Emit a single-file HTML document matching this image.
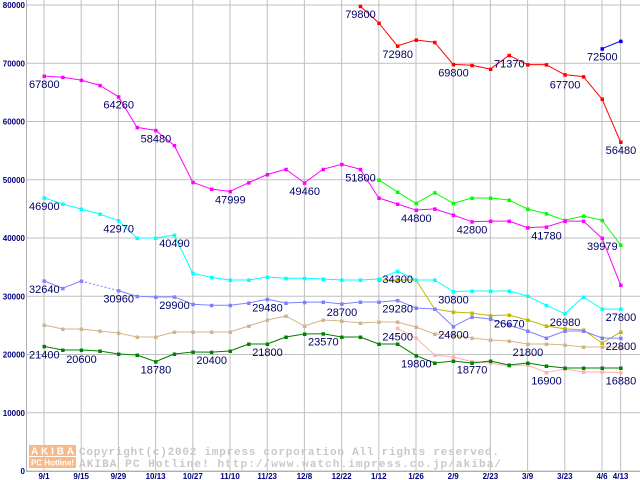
<!DOCTYPE html>
<html><head><meta charset="utf-8">
<style>
html,body{margin:0;padding:0;background:#fff;}
svg{display:block;}
.lbl{font-family:"Liberation Sans",sans-serif;font-size:11px;fill:#000066;}
.tick{font-family:"Liberation Sans",sans-serif;font-size:8px;font-weight:bold;fill:#000080;}
.wm{font-family:"Liberation Mono",monospace;font-size:11px;font-weight:bold;fill:#c8c8c8;}
</style></head>
<body>
<svg id="chart" width="640" height="480" xmlns="http://www.w3.org/2000/svg">
<g id="grid"></g>
<g id="wmark">
  <rect x="29" y="445" width="47" height="11" fill="#f8b888"/>
  <text x="31" y="454.5" font-family="Liberation Sans,sans-serif" font-size="10" font-weight="bold" fill="#fff" textLength="43">AKIBA</text>
  <rect x="29" y="457" width="47" height="11" fill="#f8b888"/>
  <text x="31" y="465.5" font-family="Liberation Sans,sans-serif" font-size="8" font-weight="bold" fill="#fff" textLength="43">PC Hotline!</text>
  <text class="wm" x="79" y="455" textLength="420">Copyright(c)2002 impress corporation All rights reserved.</text>
  <text class="wm" x="79" y="467" textLength="422">AKIBA PC Hotline!  http://www.watch.impress.co.jp/akiba/</text>
</g>
<g id="series"></g>
<g id="labels"></g>
<g id="axes"></g>
</svg>
<script>
const N = null;
const yTicks = [0,10000,20000,30000,40000,50000,60000,70000,80000];
const xTickIdx = [0,2,4,6,8,10,12,14,16,18,20,22,24,26,28,30,31];
const xTickLabels = ["9/1","9/15","9/29","10/13","10/27","11/10","11/23","12/8","12/22","1/12","1/26","2/9","2/23","3/9","3/23","4/6","4/13"];
const sMagenta = [67800,67600,67100,66200,64260,59000,58480,55900,49560,48400,47999,49500,50900,51800,49460,51800,52650,51800,46870,45840,44800,45000,43950,42800,42900,42900,41780,41900,42900,42900,39979,31930];
const sRed = [N,N,N,N,N,N,N,N,N,N,N,N,N,N,N,N,N,79800,76900,72980,74000,73600,69800,69650,69000,71370,69760,69760,68040,67700,63860,56480];
const sBlue = [N,N,N,N,N,N,N,N,N,N,N,N,N,N,N,N,N,N,N,N,N,N,N,N,N,N,N,N,N,N,72500,73800];
const sGreen = [N,N,N,N,N,N,N,N,N,N,N,N,N,N,N,N,N,N,49960,47900,45950,47780,45950,46870,46870,46520,44980,44180,43040,43780,43040,38800];
const sCyan = [46900,45840,44980,44120,42970,40000,40000,40490,33940,33250,32790,32790,33300,33080,33080,32960,32790,32790,32960,34300,32790,32790,30800,30900,30900,30900,30040,28450,27000,29870,27810,27800];
const sLavender = [32640,31360,32620,N,30960,29990,29870,29900,28620,28450,28450,28840,29480,28840,28960,29010,28700,29010,29010,29280,27980,27810,24800,26440,26090,25060,24030,22830,24030,24030,22830,22800];
const sOlive = [N,N,N,N,N,N,N,N,N,N,N,N,N,N,N,N,N,N,32790,32790,32790,27810,27300,27120,26670,26780,25920,24890,24430,24210,21970,23860];
const sTan = [25060,24380,24380,24030,23690,23000,23000,23860,23860,23860,23860,24890,25920,26610,24890,25920,25750,25410,25580,25580,24720,23520,23350,22830,22490,22320,21800,21800,21630,21290,21290,21290];
const sDkGreen = [21400,20770,20770,20600,20090,19910,18780,20090,20430,20400,20600,21800,21800,23000,23520,23570,23000,23000,21800,21800,19800,18540,18880,18540,18880,18200,18540,18030,17680,17680,17680,17680];
const sPink = [N,N,N,N,N,N,N,N,N,N,N,N,N,N,N,N,N,N,N,24500,22830,19910,19570,18770,18540,18030,18200,16900,17510,17000,17000,16880];
const labelTexts = ["67800","64260","58480","47999","49460","46900","42970","40490","32640","30960","29900","29480","21400","20600","18780","20400","21800","23570","79800","72980","69800","71370","67700","72500","56480","51800","44800","42800","41780","39979","34300","30800","28700","29280","26670","26980","27800","24500","24800","22800","21800","19800","18770","16900","16880"];
const labelIdx = [0,4,6,10,14,0,4,7,0,4,7,12,0,2,6,9,12,15,17,19,22,25,28,30,31,17,20,23,27,30,19,22,16,19,25,28,31,19,22,31,26,20,23,27,31];
const labelVal = [67800,64260,58480,47999,49460,46900,42970,40490,32640,30960,29900,29480,21400,20600,18780,20400,21800,23570,79800,72980,69800,71370,67700,72500,56480,51800,44800,42800,41780,39979,34300,30800,28700,29280,26670,26980,27800,24500,24800,22800,21800,19800,18770,16900,16880];

const X = i => 44 + 18.6*i;
const Y = v => 471 - v*0.005825;
const NS = "http://www.w3.org/2000/svg";
function mk(tag, attrs, parent){const e=document.createElementNS(NS,tag);for(const k in attrs)e.setAttribute(k,attrs[k]);parent.appendChild(e);return e;}
const grid=document.getElementById('grid'), axes=document.getElementById('axes'), ser=document.getElementById('series'), lab=document.getElementById('labels');

yTicks.forEach(v=>{
  const l=mk('line',{x1:26,x2:640,y1:Y(v),y2:Y(v),stroke:'#c0c0c0','stroke-width':1},grid);
  
  
  const t=mk('text',{x:25,y:Y(v)+3,'text-anchor':'end',class:'tick'},axes);
  t.textContent=String(v);
  
  
});
xTickIdx.forEach((i,k)=>{
  const l=mk('line',{x1:X(i),x2:X(i),y1:0,y2:471,stroke:'#c0c0c0','stroke-width':1},grid);
  
  
  const t=mk('text',{x:X(i),y:479,'text-anchor':'middle',class:'tick'},axes);
  t.textContent=xTickLabels[k];
  
  
});
const ax=mk('line',{x1:26.5,x2:26.5,y1:0,y2:471,stroke:'#b0b0b0'},grid);


const bx=mk('line',{x1:26,x2:640,y1:471.5,y2:471.5,stroke:'#b0b0b0'},grid);



function drawSeries(arr,color,name,bridgeDash){
  const g=mk('g',{},ser);
  
  
  let prev=-1;
  for(let i=0;i<arr.length;i++){
    if(arr[i]===null) continue;
    if(prev>=0){
      const attrs={x1:X(prev),y1:Y(arr[prev]),x2:X(i),y2:Y(arr[i]),stroke:color,'stroke-width':1};
      if(i-prev>1){ if(!bridgeDash){prev=i;continue;} attrs['stroke-dasharray']='2,2'; }
      const l=mk('line',attrs,g);
      
      
    }
    prev=i;
  }
  arr.forEach((v,i)=>{
    if(v===null) return;
    const r=mk('rect',{x:X(i)-1.5,y:Y(v)-1.5,width:3.5,height:3.5,fill:color},g);
    
    
  });
}
drawSeries(sPink,'#ffb0b0','series-pink',false);
drawSeries(sTan,'#d2b48c','series-tan',false);
drawSeries(sDkGreen,'#008000','series-darkgreen',false);
drawSeries(sOlive,'#c0b800','series-olive',false);
drawSeries(sLavender,'#8080ff','series-lavender',true);
drawSeries(sCyan,'#00ffff','series-cyan',false);
drawSeries(sGreen,'#00ff00','series-green',false);
drawSeries(sMagenta,'#ff00ff','series-magenta',false);
drawSeries(sRed,'#ff0000','series-red',false);
drawSeries(sBlue,'#0000ff','series-blue',false);

labelTexts.forEach((s,k)=>{
  const i=labelIdx[k], v=labelVal[k];
  const t=mk('text',{x:X(i)-15,y:Y(v)+12,'text-anchor':'start',class:'lbl'},lab);
  t.textContent=s;
  
  
});
</script>
</body></html>
